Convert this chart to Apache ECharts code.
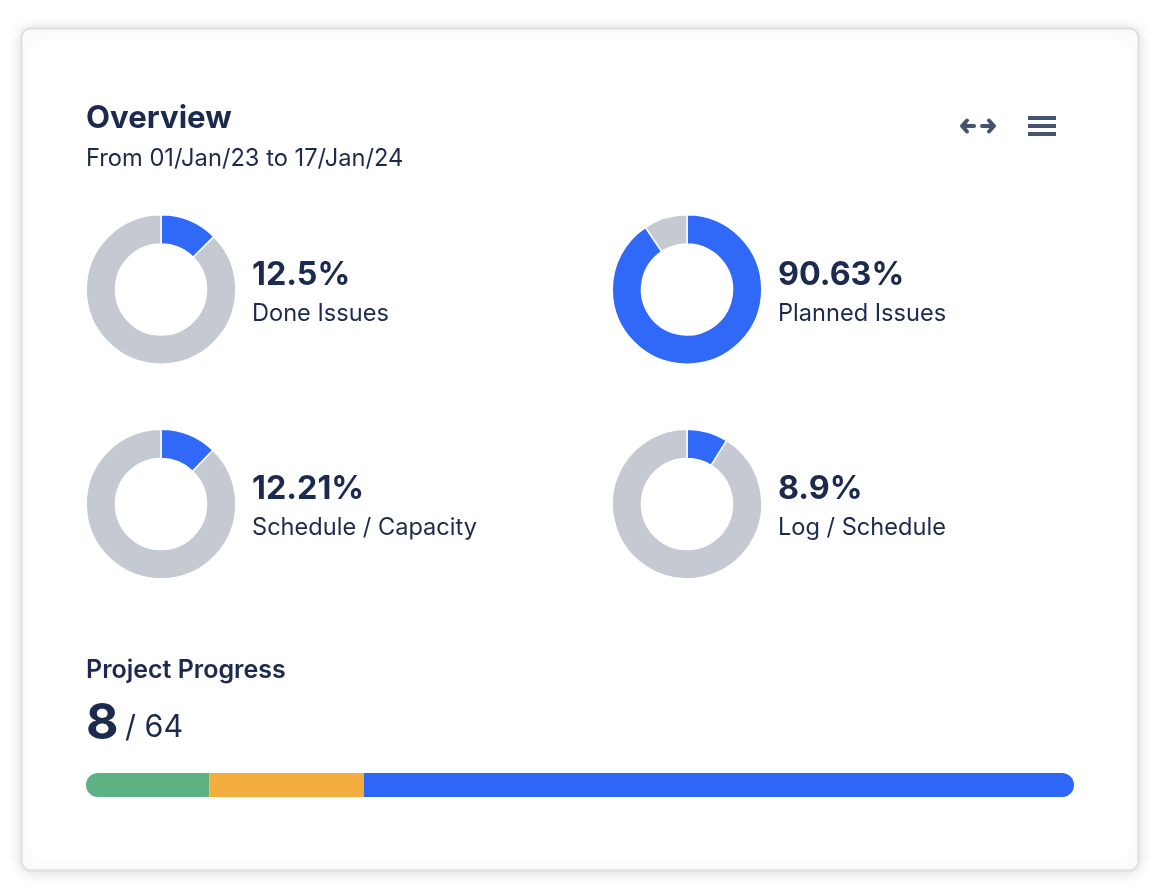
<!DOCTYPE html>
<html>
<head>
<meta charset="utf-8">
<title>Overview</title>
<script src="https://cdn.jsdelivr.net/npm/echarts@6/dist/echarts.min.js"></script>
<style>
    html, body { margin: 0; padding: 0; background: #fff; }
    #chart { width: 1152px; height: 888px; }
</style>
</head>
<body>
<div id="chart"></div>
<script>
var gaugeNames = ['Done Issues', 'Planned Issues', 'Schedule / Capacity', 'Log / Schedule'];
var gaugeValues = [12.5, 90.63, 12.21, 8.9];
var gaugeLabels = ['12.5%', '90.63%', '12.21%', '8.9%'];

var progressNames = ['Done', 'In progress', 'To do'];
var progressValues = [8, 10, 46];
var progressDone = 8;
var progressTotal = 64;

var titleText = 'Overview';
var subtitleText = 'From 01/Jan/23 to 17/Jan/24';
var progressTitle = 'Project Progress';

var fontName = 'Inter, sans-serif';
var inkColor = '#1b2a4e';
var iconColor = '#44546f';
var blue = '#3069f8';
var grey = '#c4c9d2';
var progressColors = ['#5db184', '#f3ae3d', '#2e66f8'];

// Where each donut sits, same order as gaugeNames
var gaugeCenters = [[161, 289.5], [687, 289.5], [161, 504], [687, 504]];

var chart = echarts.init(document.getElementById('chart'));

function text(x, y, content, size, weight) {
    return {
        type: 'text',
        x: x,
        y: y,
        z: 5,
        style: {
            text: content,
            fontFamily: fontName,
            fontSize: size,
            fontWeight: weight,
            fill: inkColor,
            verticalAlign: 'middle'
        }
    };
}

function line(points) {
    return {
        type: 'polyline',
        z: 5,
        shape: { points: points },
        style: { stroke: iconColor, lineWidth: 4, lineCap: 'round', lineJoin: 'round', fill: null }
    };
}

function bar(y) {
    return { type: 'rect', z: 5, shape: { x: 1028, y: y, width: 28, height: 4 }, style: { fill: iconColor } };
}

var graphics = [
    // Card
    {
        type: 'rect',
        z: 0,
        shape: { x: 21.5, y: 28.5, width: 1117, height: 842, r: 9 },
        style: {
            fill: '#fff',
            stroke: '#dfe1e6',
            lineWidth: 2.4,
            shadowBlur: 16,
            shadowColor: 'rgba(9,30,66,0.14)',
            shadowOffsetY: 1
        }
    },
    text(86, 118.5, titleText, 31.2, 700),
    text(86, 158.5, subtitleText, 23.7, 400),
    text(86, 670, progressTitle, 25, 600),
    text(86, 723.5, String(progressDone), 50, 700),
    text(125, 727.5, '/ ' + progressTotal, 30.5, 400),

    // Expand icon
    line([[964, 126], [974, 126]]),
    line([[967, 120.5], [962, 126], [967, 131.5]]),
    line([[982, 126], [992, 126]]),
    line([[989, 120.5], [994, 126], [989, 131.5]]),

    // Menu icon
    bar(116),
    bar(124),
    bar(132)
];

var series = [];

gaugeNames.forEach(function (name, i) {
    var c = gaugeCenters[i];
    graphics.push(text(c[0] + 91, c[1] - 14.5, gaugeLabels[i], 32.3, 700));
    graphics.push(text(c[0] + 91, c[1] + 24, name, 23.6, 400));
    series.push({
        name: name,
        type: 'pie',
        center: c,
        radius: [45.5, 74.8],
        startAngle: 90,
        clockwise: true,
        silent: true,
        animation: false,
        label: { show: false },
        labelLine: { show: false },
        itemStyle: { borderColor: '#fff', borderWidth: 1.5 },
        data: [
            { value: gaugeValues[i], itemStyle: { color: blue } },
            { value: 100 - gaugeValues[i], itemStyle: { color: grey } }
        ]
    });
});

// Progress bar segments
progressNames.forEach(function (name, i) {
    var last = progressNames.length - 1;
    series.push({
        name: name,
        type: 'bar',
        stack: 'progress',
        barWidth: 24,
        silent: true,
        animation: false,
        itemStyle: {
            color: progressColors[i],
            borderRadius: i === 0 ? [12, 0, 0, 12] : (i === last ? [0, 12, 12, 0] : 0)
        },
        data: [progressValues[i]]
    });
});

chart.setOption({
    animation: false,
    grid: { left: 86, top: 773, width: 988, height: 24, containLabel: false },
    xAxis: { type: 'value', min: 0, max: progressTotal, show: false },
    yAxis: { type: 'category', data: ['Progress'], show: false },
    tooltip: { show: false },
    legend: { show: false },
    graphic: { elements: graphics },
    series: series
});
</script>
</body>
</html>
